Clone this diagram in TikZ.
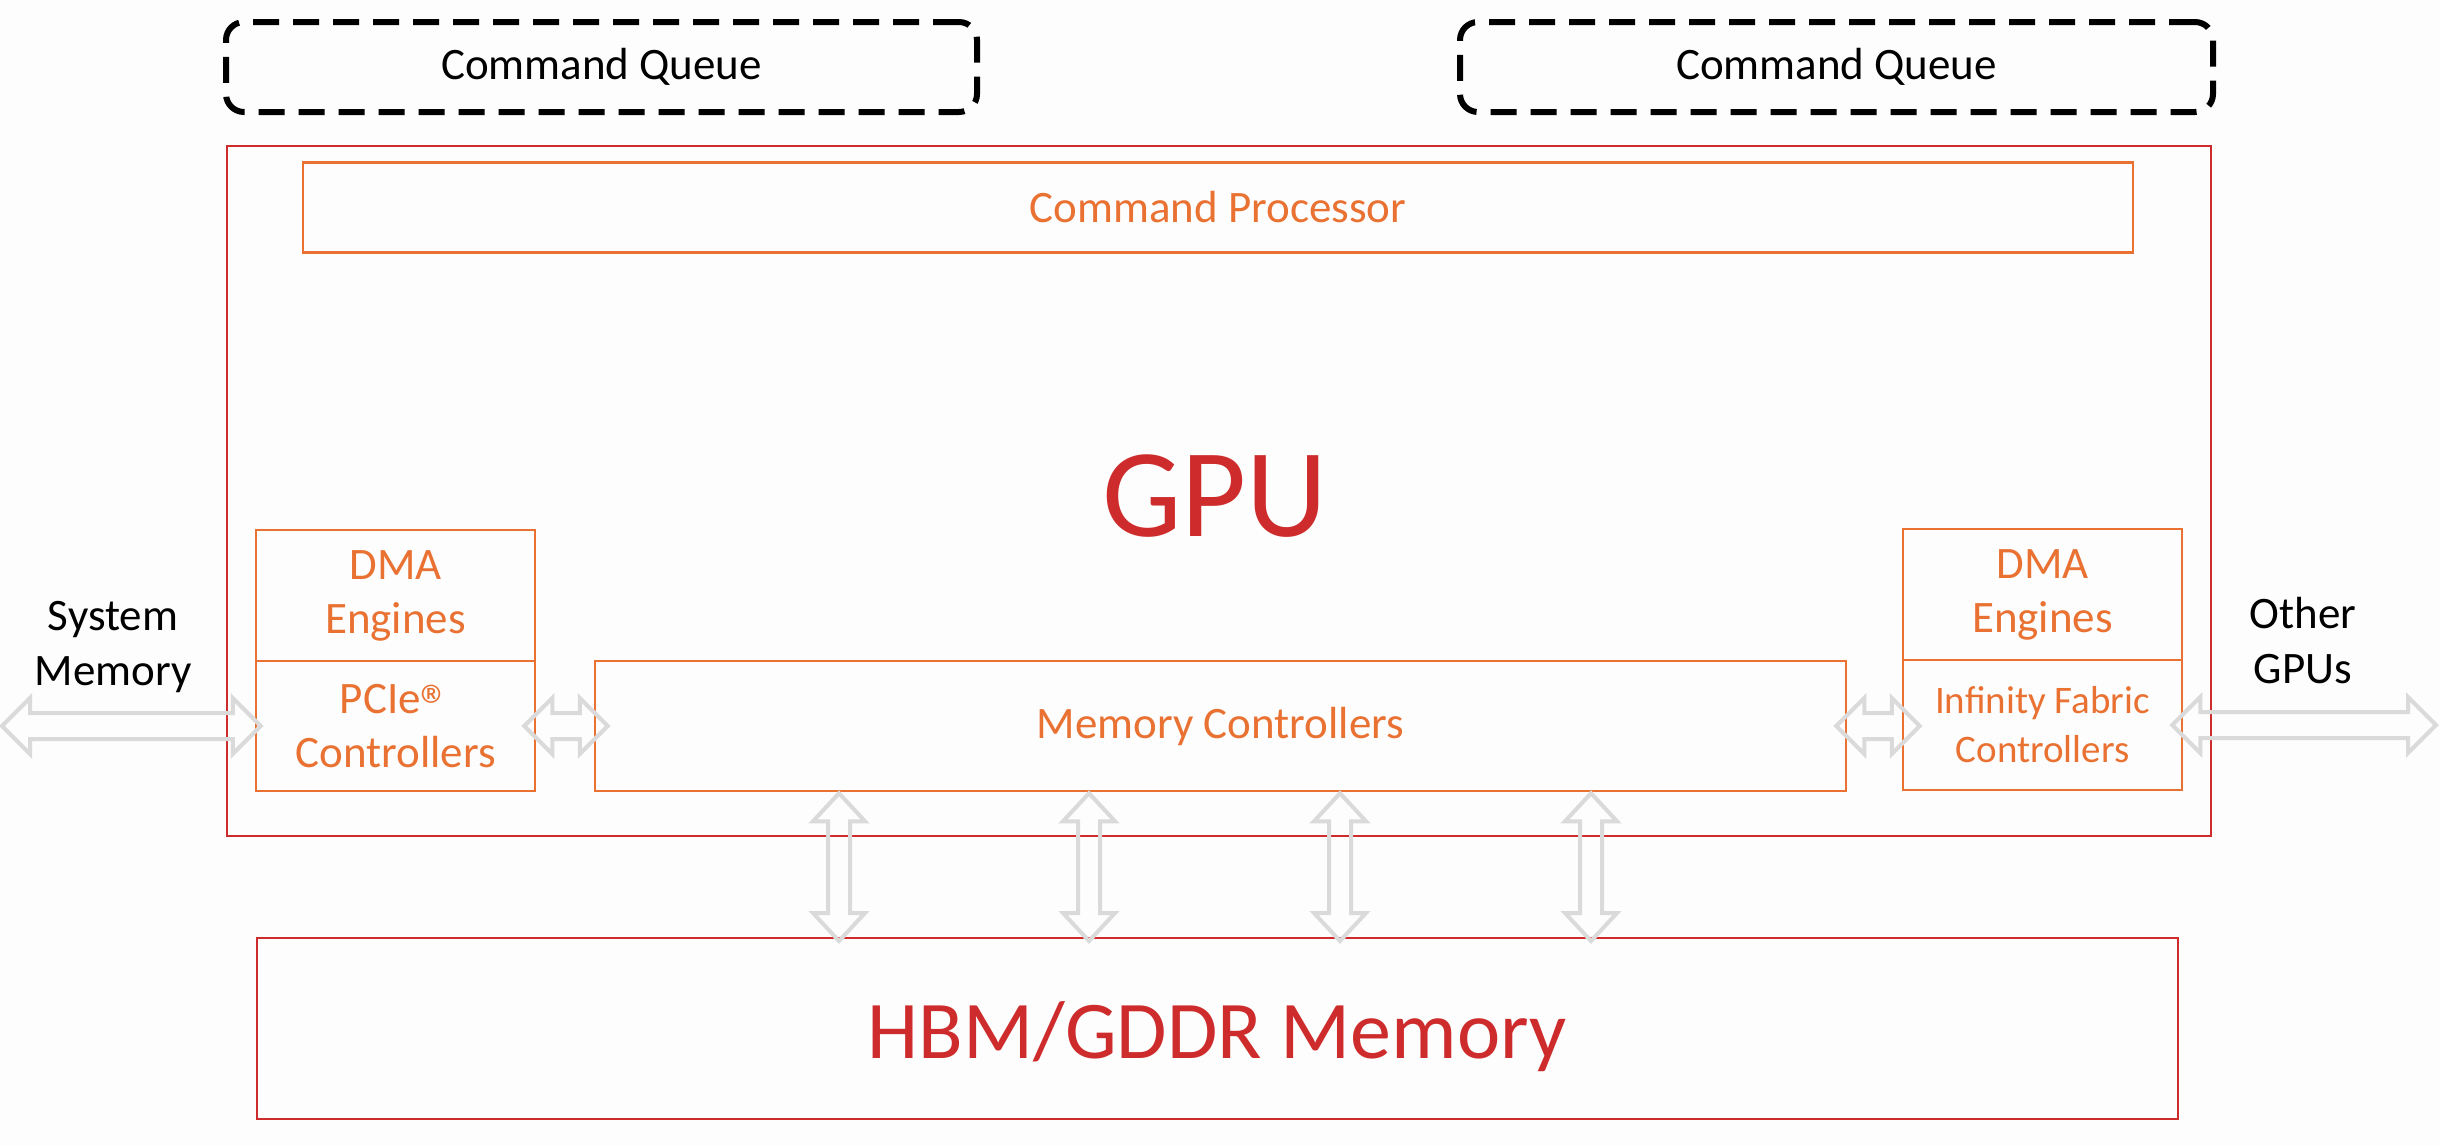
\documentclass[tikz,border=0pt]{standalone}
\usepackage{fontspec}
\setmainfont{Carlito}
\usetikzlibrary{calc}
\definecolor{gpured}{RGB}{206,44,44}
\definecolor{boxorange}{RGB}{233,113,50}
\definecolor{arrowgray}{RGB}{218,218,218}
\definecolor{bgcol}{RGB}{253,253,253}
\tikzset{
  queue/.style={draw=black, line width=6pt, dash pattern=on 26pt off 14pt, rounded corners=18pt, font=\fontsize{45}{54}\selectfont, inner sep=0pt},
  redbox/.style={draw=gpured, line width=2pt, inner sep=0pt},
  orbox/.style={draw=boxorange, line width=2.5pt, inner sep=0pt, text=boxorange, align=center, font=\fontsize{45}{54}\selectfont},
  lbl/.style={align=center, font=\fontsize{45}{55}\selectfont, inner sep=0pt},
  garrow/.style={draw=arrowgray, line width=4pt, line join=miter},
}
% horizontal outlined double arrow: #1 left tip, #2 right tip
\newcommand{\hdarrow}[2]{%
  \draw[garrow] let \p1=#1, \p2=#2 in
    (\x1,\y1) -- (\x1+28pt,\y1+28pt) -- (\x1+28pt,\y1+13pt) -- (\x2-28pt,\y1+13pt)
    -- (\x2-28pt,\y1+28pt) -- (\x2,\y1) -- (\x2-28pt,\y1-28pt) -- (\x2-28pt,\y1-13pt)
    -- (\x1+28pt,\y1-13pt) -- (\x1+28pt,\y1-28pt) -- cycle;}
% vertical outlined double arrow: #1 top tip, #2 bottom tip
\newcommand{\vdarrow}[2]{%
  \draw[garrow] let \p1=#1, \p2=#2 in
    (\x1,\y1) -- (\x1+26pt,\y1-28pt) -- (\x1+11pt,\y1-28pt) -- (\x1+11pt,\y2+28pt)
    -- (\x1+26pt,\y2+28pt) -- (\x1,\y2) -- (\x1-26pt,\y2+28pt) -- (\x1-11pt,\y2+28pt)
    -- (\x1-11pt,\y1-28pt) -- (\x1-26pt,\y1-28pt) -- cycle;}
\newcommand{\regmark}{\smash{\raisebox{-13pt}{\fontsize{60}{54}\selectfont ®}}}
\begin{document}
\begin{tikzpicture}[x=1pt,y=-1pt]
\fill[bgcol] (0,0) rectangle (2440,1146);
\useasboundingbox (0,0) rectangle (2440,1146);

\node[queue, minimum width=751pt, minimum height=90pt] (cqL) at (601.5,67) {Command Queue};
\node[queue, minimum width=753pt, minimum height=90pt] (cqR) at (1836.5,67) {Command Queue};

\node[redbox, minimum width=1984pt, minimum height=690pt] (gpu) at (1219,491) {};
\node[orbox, minimum width=1830pt, minimum height=90pt] (cp) at (1218,207.5) {Command Processor};
\node[text=gpured, inner sep=0pt, anchor=base, font=\fontsize{126}{140}\selectfont] (gpulbl) at (1215,536) {GPU};

\node[orbox, minimum width=279pt, minimum height=131pt] (dmaL) at (395.5,595.5) {DMA\\Engines};
\node[orbox, minimum width=279pt, minimum height=130pt] (pcieL) at (395.5,726) {PCIe\regmark\\Controllers};
\node[orbox, minimum width=1251pt, minimum height=130pt] (mc) at (1220.5,726) {Memory Controllers};
\node[orbox, minimum width=279pt, minimum height=131pt] (dmaR) at (2042.5,594.5) {DMA\\Engines};
\node[orbox, minimum width=279pt, minimum height=130pt, font=\fontsize{39}{49}\selectfont] (ifc) at (2042.5,725) {Infinity Fabric\\Controllers};

\node[redbox, minimum width=1921pt, minimum height=181pt] (hbm) at (1217.5,1028.5) {};
\node[text=gpured, inner sep=0pt, anchor=base, font=\fontsize{82}{96}\selectfont] (hbmlbl) at (1217,1058) {HBM/GDDR Memory};

\node[lbl] (sysmem) at (113,647) {System\\Memory};
\node[lbl] (othergpu) at (2303,641) {Other\\GPUs};

\coordinate (sysend) at (2,726);
\coordinate (gpuend) at (2436,726);

\hdarrow{(sysend)}{($(pcieL.west)+(6,0)$)}
\hdarrow{($(pcieL.east)+(-12,0)$)}{($(mc.west)+(14,0)$)}
\hdarrow{($(mc.east)+(-11,0)$)}{($(ifc.west)+(18,0)$)}
\hdarrow{($(ifc.east)+(-11,0)$)}{(gpuend)}

\vdarrow{($(839,0 |- mc.south)+(0,1)$)}{($(839,0 |- hbm.north)+(0,4)$)}
\vdarrow{($(1089,0 |- mc.south)+(0,1)$)}{($(1089,0 |- hbm.north)+(0,4)$)}
\vdarrow{($(1340,0 |- mc.south)+(0,1)$)}{($(1340,0 |- hbm.north)+(0,4)$)}
\vdarrow{($(1591,0 |- mc.south)+(0,1)$)}{($(1591,0 |- hbm.north)+(0,4)$)}
\end{tikzpicture}
\end{document}
